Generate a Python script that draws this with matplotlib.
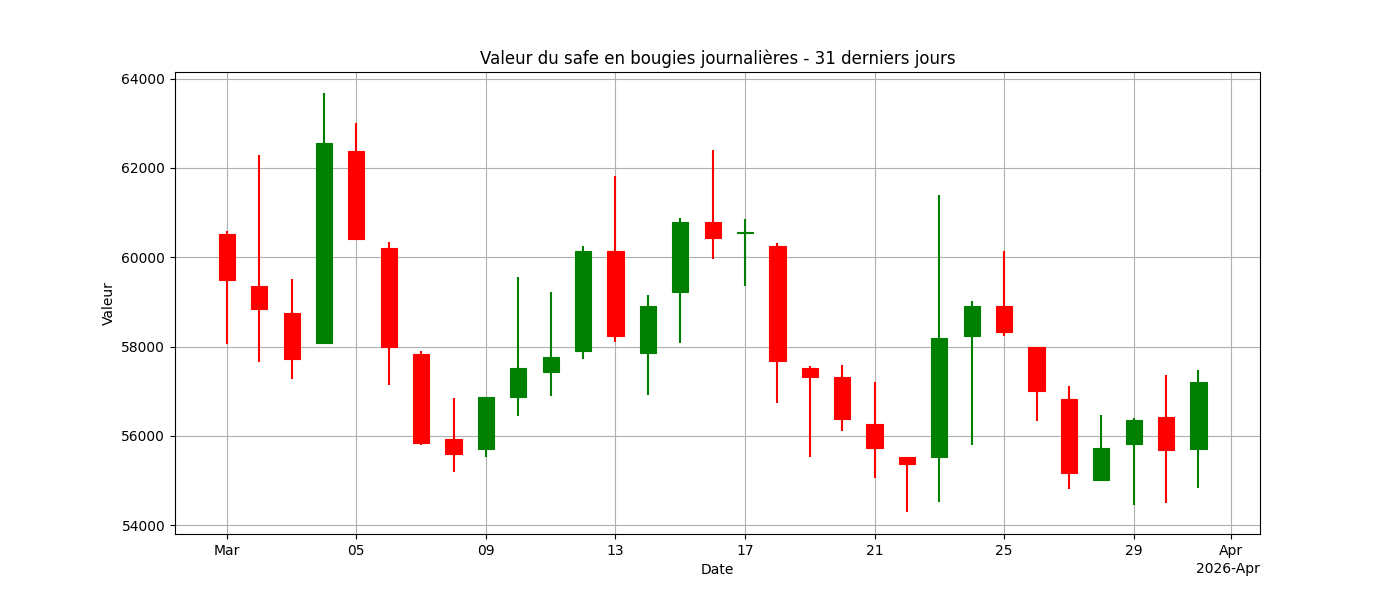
import matplotlib
matplotlib.use("Agg")
import matplotlib.pyplot as plt
import matplotlib.dates as mdates
import numpy as np
import datetime as dt

dates = [dt.date(2026, 3, d) for d in range(1, 32)]
opens  = [60530,59350,58760,58090,62390,60200,57830,55920,55700,56860,57420,57890,60150,57850,59230,60800,60550,60260,57510,57310,56260,55520,55520,58230,58900,57980,56820,55010,55810,56420,55700]
closes = [59500,58850,57730,62550,60400,57980,55830,55590,56860,57530,57760,60150,58230,58900,60780,60420,60560,57670,57310,56370,55720,55360,58180,58900,58320,57000,55160,55720,56350,55680,57200]
highs  = [60580,62300,59520,63680,63000,60350,57900,56840,56880,59550,59230,60260,61810,59150,60890,62410,60850,60330,57560,57580,57200,55520,61400,59010,60130,57980,57110,56460,56390,57360,57470]
lows   = [58050,57650,57270,58090,60400,57130,55800,55190,55520,56440,56890,57710,58110,56910,58070,59970,59350,56730,55520,56100,55050,54290,54510,55790,58230,56330,54800,55010,54450,54490,54830]

fig, ax = plt.subplots(figsize=(14, 6), dpi=100)
x = mdates.date2num(dates)
for xi, o, c, h, l in zip(x, opens, closes, highs, lows):
    col = 'green' if c >= o else 'red'
    ax.vlines(xi, l, h, color=col, linewidth=1.5, zorder=2)
    ax.bar(xi, max(abs(c - o), 1), bottom=min(o, c), width=0.5, color=col, zorder=3,
           edgecolor=col, linewidth=0.8)

loc = mdates.AutoDateLocator()
ax.xaxis.set_major_locator(loc)
ax.xaxis.set_major_formatter(mdates.ConciseDateFormatter(loc))
ax.set_xlim(x[0] - 1.6, x[-1] + 1.9)
ax.set_ylim(53800, 64150)
ax.grid(True)
ax.set_title("Valeur du safe en bougies journalières - 31 derniers jours")
ax.set_xlabel("Date")
ax.set_ylabel("Valeur")
fig.savefig("out.png")
